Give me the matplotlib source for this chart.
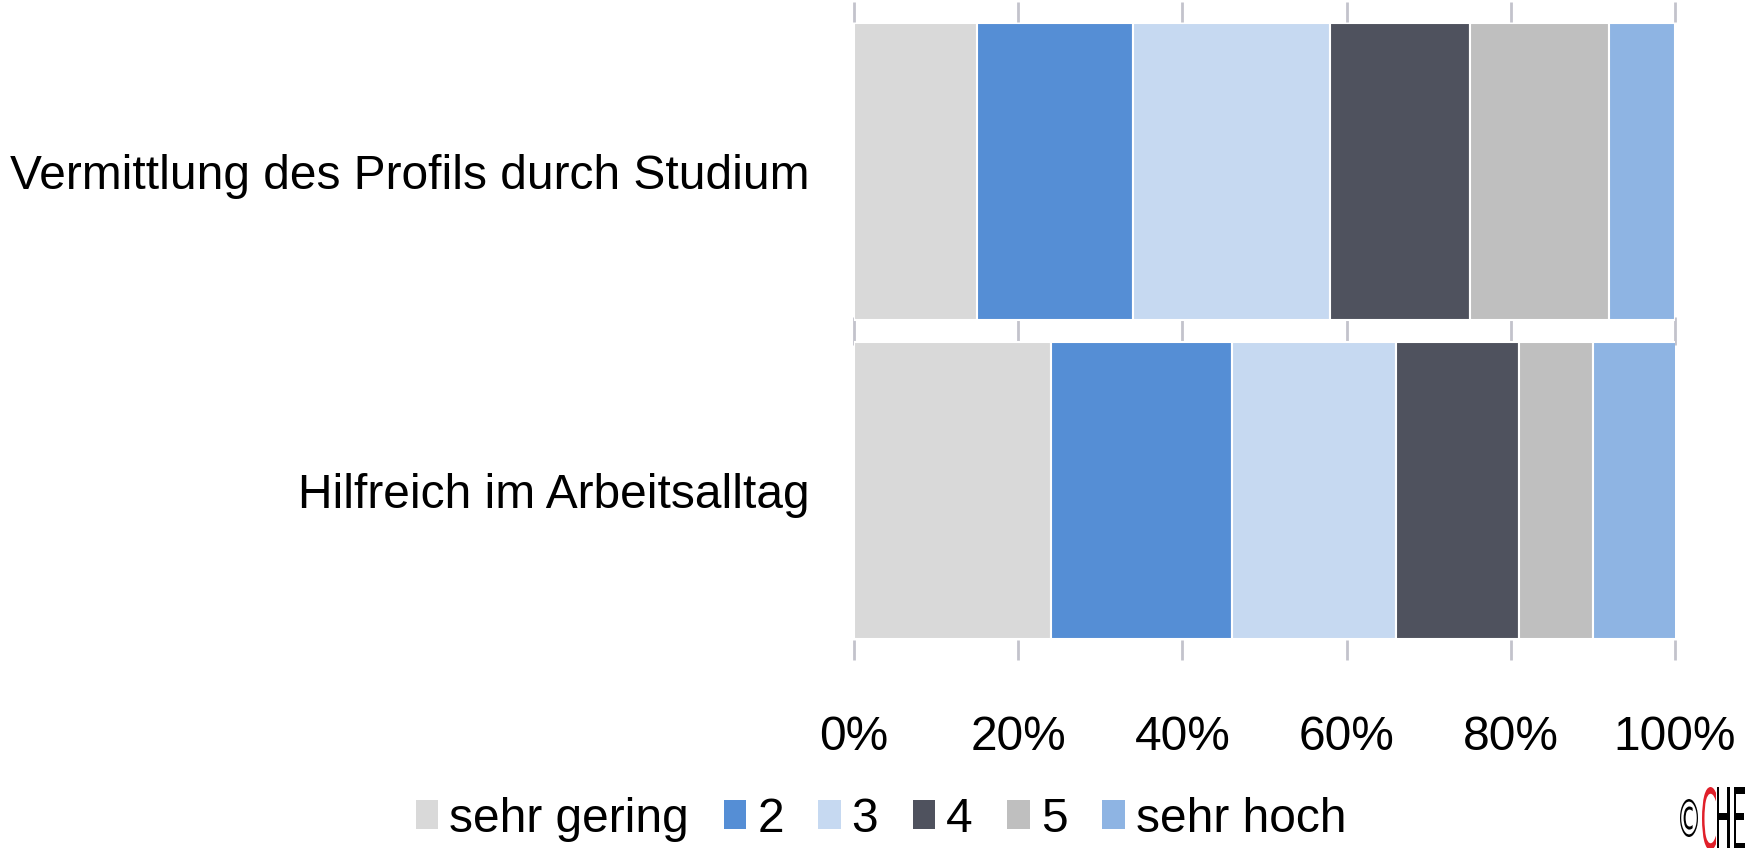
import matplotlib
matplotlib.use("Agg")
import matplotlib.pyplot as plt
import numpy as np
from matplotlib.patches import Patch, PathPatch
from matplotlib.textpath import TextPath
from matplotlib.font_manager import FontProperties
from matplotlib.transforms import Affine2D, IdentityTransform

plt.rcParams['font.family'] = ['Liberation Sans', 'DejaVu Sans']

# bottom to top, like barh draws them
categories = ["Hilfreich im Arbeitsalltag", "Vermittlung des Profils durch Studium"]
levels = ["sehr gering", "2", "3", "4", "5", "sehr hoch"]
hilfreich = [24, 22, 20, 15, 9, 10.5]
vermittlung = [15, 19, 24, 17, 17, 8]
xticks = [0, 20, 40, 60, 80, 100]
xtick_labels = ["0%", "20%", "40%", "60%", "80%", "100%"]

colors = ["#d9d9d9", "#558ed5", "#c6d9f1", "#4f525e", "#bfbfbf", "#8eb4e3"]
tick_grey = "#c3c3cc"

W, H = 1758, 848
fig = plt.figure(figsize=(W / 100, H / 100), dpi=100)
ax = fig.add_axes([854 / W, 1 - 650 / H, 821 / W, 638 / H])

values = np.array([hilfreich, vermittlung])
y = np.arange(len(categories))
left = np.zeros(len(categories))
for i, lvl in enumerate(levels):
    ax.barh(y, values[:, i], left=left, height=0.93, color=colors[i],
            edgecolor="white", linewidth=1.5, label=lvl)
    left += values[:, i]

ax.set_xlim(0, 100)
ax.set_ylim(-0.5, 1.5)
for s in ax.spines.values():
    s.set_visible(False)

ax.set_xticks(xticks)
ax.set_xticklabels(xtick_labels)
ax.set_yticks(y)
ax.set_yticklabels(categories)
ax.tick_params(axis='x', direction='inout', length=14, width=2, color=tick_grey,
               top=True, bottom=True, labelsize=34.5, pad=40)
ax.tick_params(axis='y', length=0, labelsize=34.5, pad=32)

# marks on the boundary between the two categories
ax.vlines(xticks, 0.5 - 0.044, 0.5 + 0.044, colors=tick_grey, linewidth=2,
          clip_on=False, zorder=0)

handles = [Patch(facecolor=c, edgecolor="none") for c in colors]
fig.legend(handles, levels, loc="center", bbox_to_anchor=(881 / W, 1 - 819 / H),
           ncol=6, frameon=False, fontsize=34.5, handlelength=0.47, handleheight=0.55,
           handletextpad=0.23, columnspacing=0.72, borderpad=0, borderaxespad=0)


def logo_glyph(txt, x0, y0, x1, y1, color):
    fp = FontProperties(family="DejaVu Sans")
    path = TextPath((0, 0), txt, size=100, prop=fp)
    ext = path.get_extents()
    tr = (Affine2D().translate(-ext.x0, -ext.y0)
          .scale((x1 - x0) / ext.width, (y1 - y0) / ext.height)
          .translate(x0, H - y1))
    fig.add_artist(PathPatch(path, transform=tr + IdentityTransform(),
                             facecolor=color, edgecolor="none"))


logo_glyph("©", 1680, 799, 1698, 837, "black")
logo_glyph("C", 1702, 787, 1716, 850, "#e0202a")
logo_glyph("HE", 1717, 787, 1745, 850, "black")

fig.savefig("out.png", dpi=100)
